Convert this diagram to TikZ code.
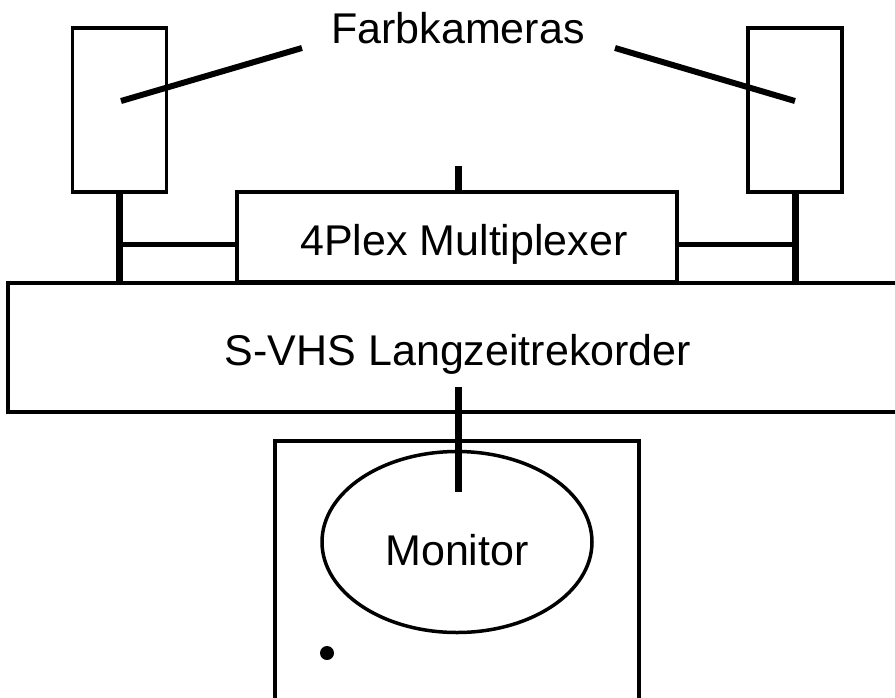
\documentclass[tikz,border=0pt]{standalone}
\usepackage{fontspec}
\setmainfont{Liberation Sans}
\usetikzlibrary{shapes.geometric}
\tikzstyle{device}=[rectangle,draw,line width=3.5pt,inner sep=0pt]
\tikzstyle{caption}=[anchor=base,inner sep=0pt,font=\fontsize{43}{50}\selectfont]
\tikzstyle{cable}=[line width=7pt]

\begin{document}
\begin{tikzpicture}[x=1pt,y=-1pt]
		\path[use as bounding box,clip] (0, 0) rectangle (895, 697);
		\node[device,minimum width=94pt,minimum height=164pt] at (119.5, 110) (camL) {};
		\node[device,minimum width=94pt,minimum height=164pt] at (795, 110) (camR) {};
		\node[device,minimum width=440pt,minimum height=90pt] at (457, 237) (mux) {};
		\node[device,minimum width=897pt,minimum height=129pt] at (456.5, 347.5) (rec) {};
		\node[device,minimum width=364pt,minimum height=269pt] at (457, 575.5) (mon) {};
		\node[ellipse,draw,line width=3.5pt,minimum width=270pt,minimum height=181pt,inner sep=0pt] at (457, 542) (scr) {};
		\node[circle,fill,minimum size=14pt,inner sep=0pt] at (327, 653) (led) {};
		\node[caption] at (458, 43) (fk) {Farbkameras};
		\node[caption] at (464, 255) (muxtext) {4Plex Multiplexer};
		\node[caption] at (458, 365) (rectext) {S-VHS Langzeitrekorder};
		\node[caption] at (457, 565) (montext) {Monitor};
		\coordinate (fkL) at (302, 48);
		\coordinate (fkR) at (615, 48);
		\coordinate (muxin) at (458, 166);
		\coordinate (recout) at (458, 387);
		\coordinate (scrin) at (458, 492);
		\draw[line width=6pt] (fkL) -- (121, 101);
		\draw[line width=6pt] (fkR) -- (795, 101);
		\draw[cable] (camL.south) -- (camL.south |- rec.north);
		\draw[cable] (camR.south) -- (camR.south |- rec.north);
		\draw[line width=5pt] ([yshift=-7.5pt]mux.west) -- ([yshift=-7.5pt]mux.west -| camL.south);
		\draw[line width=5pt] ([yshift=-7.5pt]mux.east) -- ([yshift=-7.5pt]mux.east -| camR.south);
		\draw[cable] (muxin) -- (muxin |- mux.north);
		\draw[cable] (recout) -- (scrin);
		\end{tikzpicture}
\end{document}
